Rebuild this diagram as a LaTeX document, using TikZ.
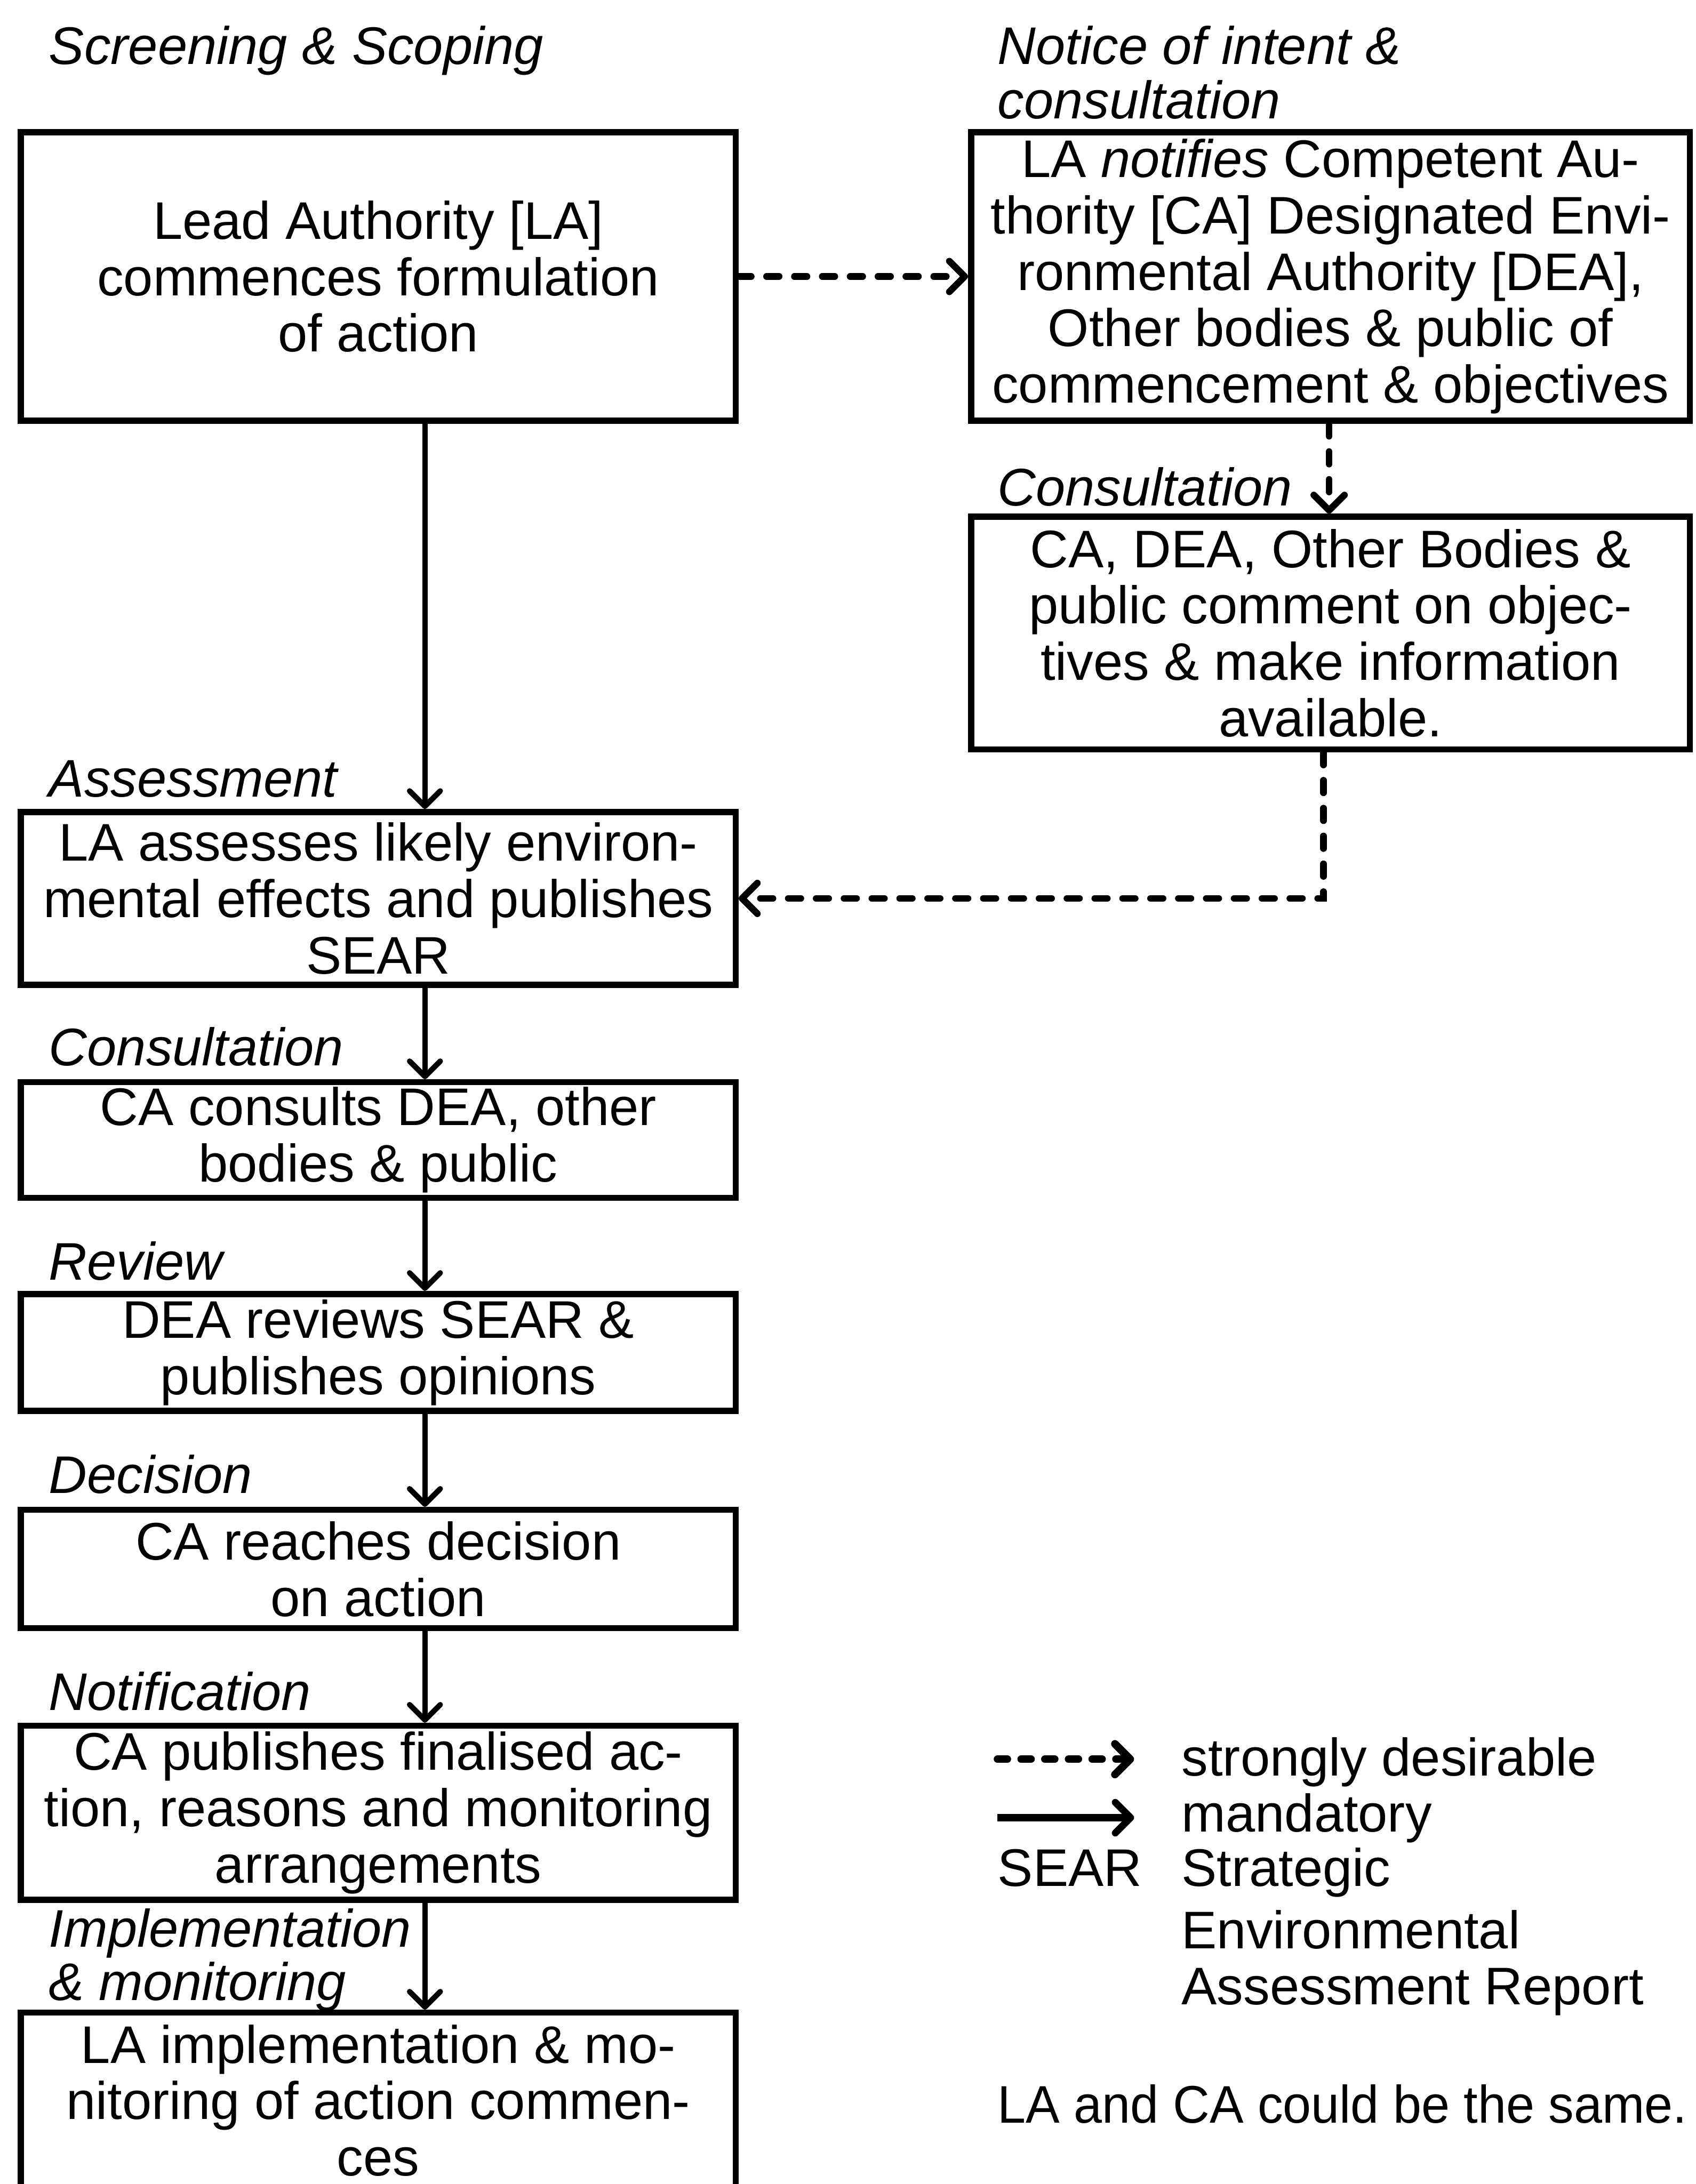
\documentclass[tikz,border=0pt]{standalone}
\usepackage{fontspec}
\setmainfont{Liberation Sans}
\usetikzlibrary{arrows.meta,calc}
\begin{document}
\begin{tikzpicture}[x=1pt,y=-1pt,
  txt/.style={font=\fontsize{38}{40.5}\selectfont,inner sep=0pt},
  box/.style={txt,draw,line width=4.4pt,align=center,minimum width=513pt},
  rbox/.style={box,minimum width=516pt},
  stage/.style={txt,anchor=base west,font=\fontsize{38}{40.5}\selectfont\itshape},
  legtext/.style={txt,anchor=base west},
  tipstyle/.style={-{Straight Barb[length=11pt,width=22pt,round]}},
  mand/.style={line width=3.9pt,tipstyle},
  desir/.style={line width=4.8pt,line cap=round,dash pattern=on 9pt off 11pt,tipstyle},
]
\path[use as bounding box] (0,0) rectangle (1217,1568);
\clip (0,0) rectangle (1217,1568);
\fill[white] (0,0) rectangle (1217,1568);

% stage headings
\node[stage] (hScreen) at (35,46) {Screening \& Scoping};
\node[stage] (hNotice1) at (716,46) {Notice of intent \&};
\node[stage] (hNotice2) at (716,85) {consultation};
\node[stage] (hConsR) at (716,363) {Consultation};
\node[stage] (hAssess) at (35,572) {Assessment};
\node[stage] (hCons) at (35,765) {Consultation};
\node[stage] (hReview) at (35,919) {Review};
\node[stage] (hDecision) at (35,1072) {Decision};
\node[stage] (hNotif) at (35,1228) {Notification};
\node[stage] (hImpl1) at (35,1398) {Implementation};
\node[stage] (hImpl2) at (35,1436) {\& monitoring};

% process boxes
\node[box,minimum height=207pt] (lead) at (271.5,198.5)
  {Lead Authority [LA]\\commences formulation\\of action};
\node[rbox,minimum height=207pt] (notify) at (955,198.5)
  {LA \textit{notifies} Competent Au-\\thority [CA] Designated Envi-\\ronmental Authority [DEA],\\Other bodies \& public of\\commencement \& objectives};
\node[rbox,minimum height=167pt] (comment) at (955,454.5)
  {CA, DEA, Other Bodies \&\\public comment on objec-\\tives \& make information\\available.};
\node[box,minimum height=124pt] (assess) at (271.5,645)
  {LA assesses likely environ-\\mental effects and publishes\\SEAR};
\node[box,minimum height=83pt] (consult) at (271.5,818.5)
  {CA consults DEA, other\\bodies \& public};
\node[box,minimum height=84pt] (review) at (271.5,971)
  {DEA reviews SEAR \&\\publishes opinions};
\node[box,minimum height=85pt] (decide) at (271.5,1126.5)
  {CA reaches decision\\on action};
\node[box,minimum height=125pt] (publish) at (271.5,1301.5)
  {CA publishes finalised ac-\\tion, reasons and monitoring\\arrangements};
\node[box,minimum height=126pt] (implement) at (271.5,1508)
  {LA implementation \& mo-\\nitoring of action commen-\\ces};

% mandatory flow
\coordinate (ax) at (305,0);
\draw[mand] (lead.south -| ax) -- (assess.north -| ax);
\draw[mand] (assess.south -| ax) -- (consult.north -| ax);
\draw[mand] (consult.south -| ax) -- (review.north -| ax);
\draw[mand] (review.south -| ax) -- (decide.north -| ax);
\draw[mand] (decide.south -| ax) -- (publish.north -| ax);
\draw[mand] (publish.south -| ax) -- (implement.north -| ax);

% strongly desirable flow
\coordinate (dx1) at (954,0);
\coordinate (dx2) at (950,0);
\draw[desir] (lead.east) -- (notify.west);
\draw[desir] (notify.south -| dx1) -- (comment.north -| dx1);
\draw[desir] (comment.south -| dx2) |- (assess.east);

% legend
\coordinate (l1a) at (716,1263);
\coordinate (l1b) at (814,1263);
\coordinate (l2a) at (716,1305);
\coordinate (l2b) at (814,1305);
\draw[desir,line width=5.5pt,dash pattern=on 7pt off 10pt] (l1a) -- (l1b);
\draw[mand,line width=5pt] (l2a) -- (l2b);
\node[legtext] (lgDes) at (848,1275) {strongly desirable};
\node[legtext] (lgMan) at (848,1315) {mandatory};
\node[legtext] (lgSear) at (716,1354) {SEAR};
\node[legtext] (lgDef1) at (848,1354) {Strategic};
\node[legtext] (lgDef2) at (848,1399) {Environmental};
\node[legtext] (lgDef3) at (848,1439) {Assessment Report};
\node[legtext] (lgNote) at (716,1524) {\scalebox{0.96}[1]{LA and CA could be the same.}};
\end{tikzpicture}
\end{document}
